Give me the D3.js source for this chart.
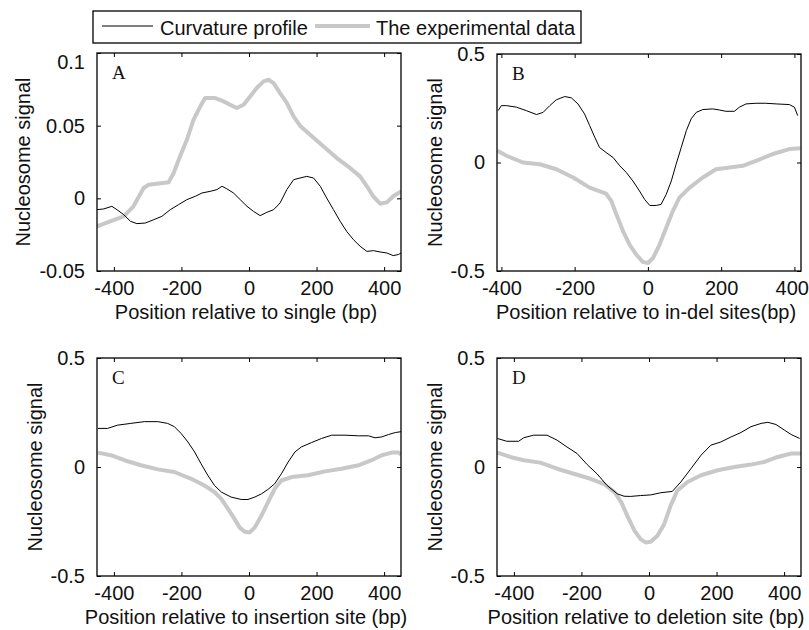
<!DOCTYPE html>
<html>
<head>
<meta charset="utf-8">
<script src="https://cdn.jsdelivr.net/npm/d3@7"></script>
<style>
  html, body { margin: 0; padding: 0; background: #fff; }
  svg { display: block; font-family: "Liberation Sans", Arial, sans-serif; }
</style>
</head>
<body>
<svg id="chart" width="809" height="630"></svg>
<script>
// ---------------- data ----------------
const legendLabels = ["Curvature profile", "The experimental data"];
const panelLetters = ["A", "B", "C", "D"];
const xAxisLabels = [
  "Position relative to single (bp)",
  "Position relative to in-del sites(bp)",
  "Position relative to insertion site (bp)",
  "Position relative to deletion site (bp)"
];
const yAxisLabel = "Nucleosome signal";
const xTicks = [-400, -200, 0, 200, 400];
const yTicksA = [-0.05, 0, 0.05, 0.1];
const yTicksBCD = [-0.5, 0, 0.5];

// Panel A
const posA_curv = [-450,-430,-406,-391,-371,-351,-332,-307,-282,-258,-233,-209,-184,-159,-139,-115,-95,-80,-66,-46,-26,-6,13,33,53,73,92,112,132,151,171,191,211,230,250,270,289,309,329,349,368,388,408,427,442,450];
const sigA_curv = [-0.0078,-0.0073,-0.0055,-0.0078,-0.0112,-0.0158,-0.0174,-0.0170,-0.0147,-0.0124,-0.0078,-0.0044,-0.0009,0.0014,0.0037,0.0048,0.0060,0.0083,0.0066,0.0037,-0.0009,-0.0055,-0.0089,-0.0119,-0.0096,-0.0078,-0.0032,0.0060,0.0128,0.0140,0.0151,0.0140,0.0083,0.0002,-0.0078,-0.0158,-0.0227,-0.0284,-0.0330,-0.0365,-0.0360,-0.0369,-0.0376,-0.0394,-0.0387,-0.0376];
const posA_exp = [-450,-411,-371,-342,-312,-297,-273,-238,-223,-204,-184,-164,-144,-130,-100,-75,-56,-36,-16,4,23,43,58,73,92,112,132,151,181,220,260,299,329,349,368,388,408,427,450];
const sigA_exp = [-0.0193,-0.0158,-0.0124,-0.0055,0.0071,0.0094,0.0101,0.0110,0.0174,0.0289,0.0403,0.0541,0.0633,0.0690,0.0690,0.0667,0.0644,0.0621,0.0644,0.0702,0.0759,0.0805,0.0816,0.0793,0.0724,0.0656,0.0564,0.0500,0.0438,0.0358,0.0277,0.0209,0.0151,0.0083,0.0014,-0.0037,-0.0028,0.0014,0.0048];

// Panel B
const posB_curv = [-409,-400,-386,-359,-332,-304,-286,-268,-250,-227,-209,-191,-173,-159,-145,-132,-114,-95,-77,-59,-41,-23,-9,5,23,36,50,64,77,91,105,118,132,150,177,195,213,236,250,268,295,322,350,386,400,409];
const sigB_curv = [0.239,0.262,0.262,0.255,0.239,0.221,0.231,0.262,0.289,0.304,0.298,0.270,0.224,0.170,0.116,0.069,0.046,0.023,-0.015,-0.046,-0.085,-0.131,-0.170,-0.198,-0.198,-0.193,-0.147,-0.085,-0.008,0.069,0.147,0.201,0.231,0.244,0.247,0.242,0.236,0.236,0.255,0.270,0.273,0.273,0.270,0.267,0.255,0.216];
const posB_exp = [-411,-386,-341,-295,-250,-204,-159,-114,-100,-86,-68,-50,-32,-14,0,14,32,50,68,86,114,150,186,223,259,295,341,386,416];
const sigB_exp = [0.054,0.031,0.000,-0.008,-0.031,-0.069,-0.116,-0.144,-0.177,-0.239,-0.316,-0.378,-0.424,-0.458,-0.463,-0.440,-0.378,-0.301,-0.224,-0.162,-0.116,-0.069,-0.031,-0.023,-0.015,0.008,0.039,0.062,0.066];

// Panel C
const posC_curv = [-447,-419,-389,-350,-310,-270,-241,-221,-201,-181,-161,-142,-122,-102,-82,-53,-23,-3,17,37,56,76,96,116,136,155,185,215,245,284,324,354,373,393,413,433,450];
const sigC_curv = [0.177,0.177,0.192,0.200,0.208,0.208,0.200,0.185,0.154,0.115,0.069,0.015,-0.038,-0.085,-0.115,-0.138,-0.149,-0.149,-0.138,-0.123,-0.103,-0.077,-0.031,0.023,0.069,0.092,0.112,0.131,0.146,0.146,0.143,0.143,0.134,0.138,0.149,0.158,0.162];
const posC_exp = [-447,-409,-369,-320,-270,-221,-171,-132,-102,-82,-62,-43,-28,-13,2,17,37,56,76,96,126,175,225,274,324,363,393,423,443,450];
const sigC_exp = [0.066,0.054,0.031,0.008,-0.011,-0.023,-0.054,-0.085,-0.115,-0.146,-0.192,-0.238,-0.277,-0.297,-0.300,-0.277,-0.223,-0.162,-0.100,-0.062,-0.046,-0.038,-0.020,-0.008,0.008,0.031,0.054,0.066,0.066,0.057];

// Panel D
const posD_curv = [-449,-421,-386,-371,-342,-302,-272,-243,-213,-183,-154,-124,-94,-74,-55,-25,5,35,69,94,124,154,183,213,243,272,302,332,352,376,401,421,446];
const sigD_curv = [0.131,0.118,0.118,0.134,0.146,0.146,0.123,0.092,0.062,0.011,-0.031,-0.085,-0.123,-0.134,-0.135,-0.131,-0.128,-0.118,-0.112,-0.069,-0.008,0.054,0.100,0.115,0.138,0.158,0.185,0.200,0.205,0.195,0.169,0.149,0.131];
const posD_exp = [-449,-411,-371,-322,-272,-223,-173,-134,-102,-82,-62,-43,-25,-10,5,25,45,64,84,114,154,203,253,302,342,381,421,450];
const sigD_exp = [0.066,0.046,0.031,0.020,-0.008,-0.031,-0.054,-0.077,-0.115,-0.162,-0.231,-0.292,-0.331,-0.346,-0.343,-0.315,-0.262,-0.177,-0.108,-0.069,-0.038,-0.015,0.000,0.011,0.023,0.046,0.062,0.062];

// ---------------- layout ----------------
const panels = [
  { letter: panelLetters[0], xl: xAxisLabels[0], box: [97, 53, 401, 271], xd: [-450, 450], yd: [-0.05, 0.1], yt: yTicksA,
    curv: [posA_curv, sigA_curv], exp: [posA_exp, sigA_exp], ylx: 30 },
  { letter: panelLetters[1], xl: xAxisLabels[1], box: [497, 54, 801, 271], xd: [-412, 418], yd: [-0.5, 0.5], yt: yTicksBCD,
    curv: [posB_curv, sigB_curv], exp: [posB_exp, sigB_exp], ylx: 442 },
  { letter: panelLetters[2], xl: xAxisLabels[2], box: [97, 358, 401, 576], xd: [-450, 450], yd: [-0.5, 0.5], yt: yTicksBCD,
    curv: [posC_curv, sigC_curv], exp: [posC_exp, sigC_exp], ylx: 42 },
  { letter: panelLetters[3], xl: xAxisLabels[3], box: [497, 358, 801, 576], xd: [-450, 450], yd: [-0.5, 0.5], yt: yTicksBCD,
    curv: [posD_curv, sigD_curv], exp: [posD_exp, sigD_exp], ylx: 442 }
];

const GRAY = "#c8c8c8";
const INK = "#111";
const svg = d3.select("#chart");
const fmt = d => String(d);

panels.forEach((p, i) => {
  const [x0, y0, x1, y1] = p.box;
  const x = d3.scaleLinear().domain(p.xd).range([x0, x1]);
  const y = d3.scaleLinear().domain(p.yd).range([y1, y0]);
  const g = svg.append("g");

  const clipId = "clip" + i;
  svg.append("clipPath").attr("id", clipId)
    .append("rect").attr("x", x0).attr("y", y0).attr("width", x1 - x0).attr("height", y1 - y0);

  // lines
  const line = d3.line().x(d => x(d[0])).y(d => y(d[1]));
  const expPts = p.exp[0].map((v, k) => [v, p.exp[1][k]]);
  const curvPts = p.curv[0].map((v, k) => [v, p.curv[1][k]]);
  g.append("path").datum(expPts).attr("d", line)
    .attr("fill", "none").attr("stroke", GRAY).attr("stroke-width", 4)
    .attr("stroke-linejoin", "round").attr("clip-path", `url(#${clipId})`);
  g.append("path").datum(curvPts).attr("d", line)
    .attr("fill", "none").attr("stroke", "#000").attr("stroke-width", 1)
    .attr("clip-path", `url(#${clipId})`);

  // axes (ticks inward on all four sides)
  const bottom = g.append("g").attr("transform", `translate(0,${y1})`)
    .call(d3.axisBottom(x).tickValues(xTicks).tickFormat(fmt).tickSizeInner(-4).tickSizeOuter(0).tickPadding(10));
  const top = g.append("g").attr("transform", `translate(0,${y0})`)
    .call(d3.axisTop(x).tickValues(xTicks).tickFormat("").tickSizeInner(-4).tickSizeOuter(0));
  const left = g.append("g").attr("transform", `translate(${x0},0)`)
    .call(d3.axisLeft(y).tickValues(p.yt).tickFormat(fmt).tickSizeInner(-4).tickSizeOuter(0).tickPadding(12));
  const right = g.append("g").attr("transform", `translate(${x1},0)`)
    .call(d3.axisRight(y).tickValues(p.yt).tickFormat("").tickSizeInner(-4).tickSizeOuter(0));
  [bottom, top, left, right].forEach(a => {
    a.attr("font-family", null).attr("font-size", null);
    a.select(".domain").remove();
    a.selectAll("line").attr("stroke", "#000");
    a.selectAll("text").style("font-size", "20px").style("fill", INK);
  });
  // MATLAB places the top label of panel A slightly below its tick
  if (i === 0) {
    left.selectAll(".tick").filter(d => d === 0.1).select("text").attr("dy", "0.75em");
  }
  // panel B: the last x label sits flush with the figure's right edge
  if (i === 1) {
    bottom.selectAll(".tick").filter(d => d === 400).select("text")
      .attr("text-anchor", "end").attr("x", 14);
  }

  // box
  g.append("rect").attr("x", x0).attr("y", y0).attr("width", x1 - x0).attr("height", y1 - y0)
    .attr("fill", "none").attr("stroke", "#000").attr("stroke-width", 1.3);

  // panel letter
  g.append("text").attr("x", x0 + 15).attr("y", y0 + 26)
    .style("font-family", "'Liberation Serif', 'Times New Roman', serif").style("font-size", "19px")
    .style("fill", INK).text(p.letter);

  // x label
  g.append("text").attr("x", (x0 + x1) / 2 - 3).attr("y", y1 + 48)
    .attr("text-anchor", "middle").style("font-size", "20px").style("fill", INK).text(p.xl);

  // y label
  g.append("text").attr("transform", `translate(${p.ylx},${(y0 + y1) / 2}) rotate(-90)`)
    .attr("text-anchor", "middle").style("font-size", "20px").style("fill", INK).text(yAxisLabel);
});

// legend
const lg = svg.append("g");
lg.append("rect").attr("x", 93).attr("y", 11).attr("width", 488).attr("height", 32)
  .attr("fill", "#fff").attr("stroke", "#000").attr("stroke-width", 1.3);
lg.append("line").attr("x1", 102).attr("x2", 153).attr("y1", 26).attr("y2", 26)
  .attr("stroke", "#000").attr("stroke-width", 1);
lg.append("text").attr("x", 160).attr("y", 35).style("font-size", "20px").style("fill", INK).text(legendLabels[0]);
lg.append("line").attr("x1", 315).attr("x2", 370).attr("y1", 26).attr("y2", 26)
  .attr("stroke", GRAY).attr("stroke-width", 4);
lg.append("text").attr("x", 376).attr("y", 35).style("font-size", "20px").style("fill", INK).text(legendLabels[1]);
</script>
</body>
</html>
